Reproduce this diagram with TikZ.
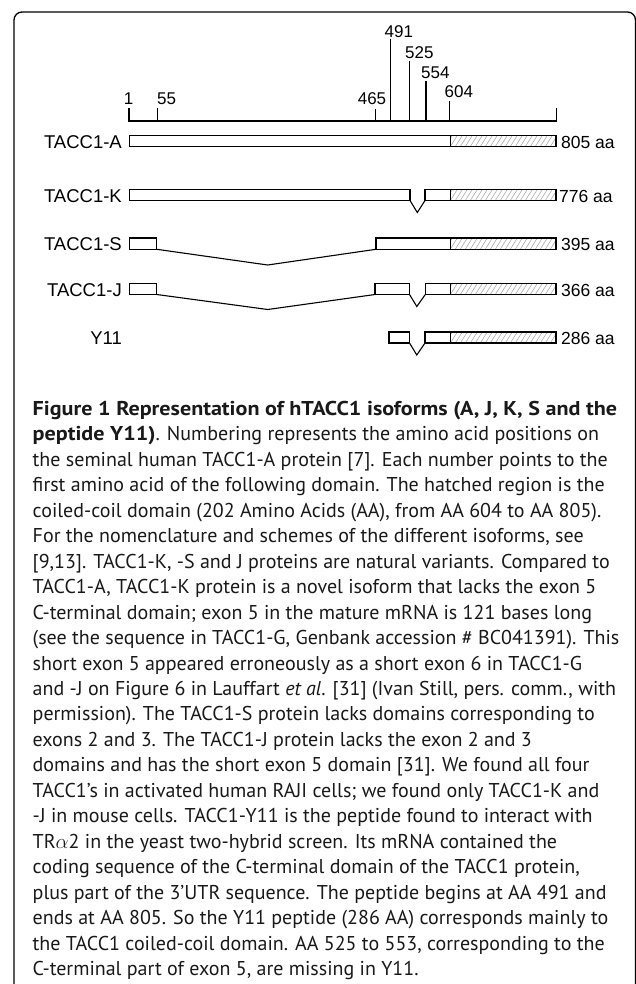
\documentclass[tikz,border=0pt]{standalone}
\usepackage{graphicx}
\usepackage{fontspec}
\setmainfont{PT Sans}
\newfontfamily\diagfont{Liberation Sans}
\newcommand\wb[1]{\scalebox{1.105}[1]{\textbf{#1}}}
\newcommand\hatchbox[4]{%
  \fill[white] (#1,#2) rectangle (#3,#4);
  \begin{scope}
    \clip (#1,#2) rectangle (#3,#4);
    \foreach \k in {-10,-5,...,120} {
      \draw[hatchline] ({#1+\k},#4) -- ({#1+\k+7},#2);
    }
  \end{scope}
  \draw[bar] (#1,#2) rectangle (#3,#4);
}
\begin{document}
\begin{tikzpicture}[x=1pt,y=-1pt,
  bar/.style={line width=1.1pt, draw=black},
  hatchline/.style={line width=0.55pt, draw=black!35},
  num/.style={font=\diagfont\fontsize{17}{17}\selectfont, inner sep=0pt},
  rowlab/.style={font=\diagfont\fontsize{18.5}{18.5}\selectfont, inner sep=0pt, anchor=east},
  aalab/.style={font=\diagfont\fontsize{17.5}{17.5}\selectfont, inner sep=0pt, anchor=west},
  capline/.style={font=\fontsize{20}{24}\selectfont, inner sep=0pt, anchor=base west, text=black!90}
]
\useasboundingbox (0,0) rectangle (636,984);
% frame
\draw[line width=1.3pt, rounded corners=8pt] (14,1000) -- (14,12) -- (635.5,12) -- (635.5,1000);

% scale
\draw[bar] (129,108) -- (129,121) -- (556.3,121) -- (556.3,108);
\draw[bar] (157.4,108) -- (157.4,121);
\draw[bar] (375.3,109) -- (375.3,121);
\draw[bar] (390.5,39) -- (390.5,121);
\draw[bar] (409.7,61) -- (409.7,121);
\draw[bar] (426,81) -- (426,121);
\draw[bar] (449.5,101) -- (449.5,121);
\node[num, anchor=base] (n1) at (128.6,105) {1};
\node[num, anchor=base west] (n55) at (157,105) {55};
\node[num, anchor=base] (n465) at (372,105) {465};
\node[num, anchor=base west] (n491) at (384.5,37.7) {491};
\node[num, anchor=base west] (n525) at (405,58.3) {525};
\node[num, anchor=base west] (n554) at (421,79) {554};
\node[num, anchor=base west] (n604) at (444.5,98) {604};

% TACC1-A
\fill[white] (129.5,135.5) rectangle (450.3,146.5);
\draw[bar] (129.5,135.5) rectangle (450.3,146.5);
\hatchbox{450.3}{135.5}{556}{146.5}
\node[rowlab] (lA) at (122,142) {TACC1-A};
\node[aalab] (aA) at (561,142) {805 aa};

% TACC1-K
\draw[bar] (129.5,189.5) rectangle (410,200.5);
\draw[bar] (410,200.5) -- (417.3,212.5) -- (425,200.5);
\draw[bar] (425,189.5) rectangle (450.3,200.5);
\hatchbox{450.3}{189.5}{556}{200.5}
\node[rowlab] (lK) at (122,196) {TACC1-K};
\node[aalab] (aK) at (559,196) {776 aa};

% TACC1-S
\draw[bar] (129.5,238) rectangle (156.7,249.3);
\draw[bar] (156.7,249.3) -- (267.7,265) -- (376,249.3);
\draw[bar] (376,238) rectangle (450.3,249.3);
\hatchbox{450.3}{238}{556}{249.3}
\node[rowlab] (lS) at (122,244.5) {TACC1-S};
\node[aalab] (aS) at (561,244.5) {395 aa};

% TACC1-J
\draw[bar] (129.5,283.5) rectangle (156.7,294.5);
\draw[bar] (156.7,294.5) -- (267.7,309.5) -- (375,294.5);
\draw[bar] (375,283.5) rectangle (409.5,294.5);
\draw[bar] (409.5,294.5) -- (416.8,306.5) -- (425.3,294.5);
\draw[bar] (425.3,283.5) rectangle (450.3,294.5);
\hatchbox{450.3}{283.5}{556}{294.5}
\node[rowlab] (lJ) at (122,290) {TACC1-J};
\node[aalab] (aJ) at (561,290) {366 aa};

% Y11
\draw[bar] (389,332) rectangle (409.5,343);
\draw[bar] (409.5,343) -- (416.8,355) -- (425,343);
\draw[bar] (425,332) rectangle (450.3,343);
\hatchbox{450.3}{332}{556}{343}
\node[rowlab] (lY) at (122,338.5) {Y11};
\node[aalab] (aY) at (561,338.5) {286 aa};

% caption
\node[capline] (c1) at (32.5,415.3) {\wb{Figure 1 Representation of hTACC1 isoforms (A, J, K, S and the}};
\node[capline] (c2) at (32.5,440.8) {\wb{peptide Y11)}. Numbering represents the amino acid positions on};
\node[capline] (c3) at (32.5,466.2) {the seminal human TACC1-A protein [7]. Each number points to the};
\node[capline] (c4) at (32.5,491.7) {first amino acid of the following domain. The hatched region is the};
\node[capline] (c5) at (32.5,517.2) {coiled-coil domain (202 Amino Acids (AA), from AA 604 to AA 805).};
\node[capline] (c6) at (32.5,542.6) {For the nomenclature and schemes of the different isoforms, see};
\node[capline] (c7) at (32.5,568.1) {[9,13]. TACC1-K, -S and J proteins are natural variants. Compared to};
\node[capline] (c8) at (32.5,593.6) {TACC1-A, TACC1-K protein is a novel isoform that lacks the exon 5};
\node[capline] (c9) at (32.5,619.1) {C-terminal domain; exon 5 in the mature mRNA is 121 bases long};
\node[capline] (c10) at (32.5,644.5) {(see the sequence in TACC1-G, Genbank accession \# BC041391). This};
\node[capline] (c11) at (32.5,670.0) {short exon 5 appeared erroneously as a short exon 6 in TACC1-G};
\node[capline] (c12) at (32.5,695.5) {and -J on Figure 6 in Lauffart \textit{et al}. [31] (Ivan Still, pers. comm., with};
\node[capline] (c13) at (32.5,720.9) {permission). The TACC1-S protein lacks domains corresponding to};
\node[capline] (c14) at (32.5,746.4) {exons 2 and 3. The TACC1-J protein lacks the exon 2 and 3};
\node[capline] (c15) at (32.5,771.9) {domains and has the short exon 5 domain [31]. We found all four};
\node[capline] (c16) at (32.5,797.3) {TACC1’s in activated human RAJI cells; we found only TACC1-K and};
\node[capline] (c17) at (32.5,822.8) {-J in mouse cells. TACC1-Y11 is the peptide found to interact with};
\node[capline] (c18) at (32.5,848.3) {TR$\alpha$2 in the yeast two-hybrid screen. Its mRNA contained the};
\node[capline] (c19) at (32.5,873.8) {coding sequence of the C-terminal domain of the TACC1 protein,};
\node[capline] (c20) at (32.5,899.2) {plus part of the 3’UTR sequence. The peptide begins at AA 491 and};
\node[capline] (c21) at (32.5,924.7) {ends at AA 805. So the Y11 peptide (286 AA) corresponds mainly to};
\node[capline] (c22) at (32.5,950.2) {the TACC1 coiled-coil domain. AA 525 to 553, corresponding to the};
\node[capline] (c23) at (32.5,975.6) {C-terminal part of exon 5, are missing in Y11.};
\end{tikzpicture}
\end{document}
